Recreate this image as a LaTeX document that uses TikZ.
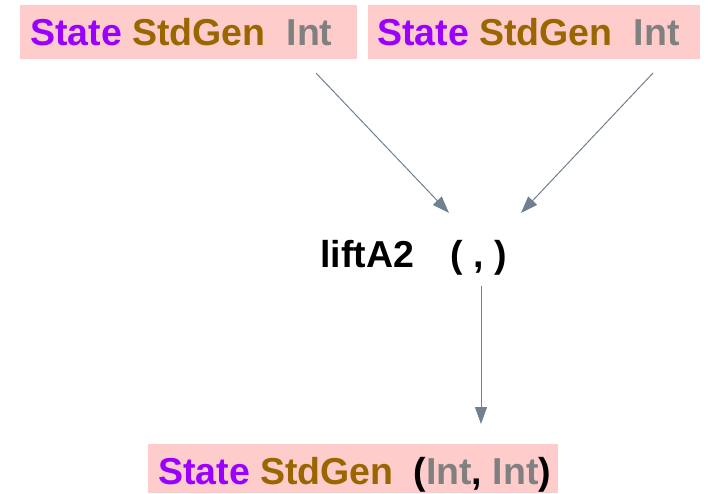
\documentclass[tikz,border=0pt]{standalone}
\usepackage{fontspec}
\setmainfont{Liberation Sans}
\usetikzlibrary{arrows.meta,calc}
\definecolor{boxfill}{HTML}{FFCCCC}
\definecolor{statec}{HTML}{9900FF}
\definecolor{genc}{HTML}{996600}
\definecolor{intc}{HTML}{808080}
\definecolor{arrc}{HTML}{708090}
\tikzset{
  typebox/.style={draw=none, fill=boxfill, rectangle, inner sep=0pt, anchor=south west},
  typetext/.style={anchor=base west, inner sep=0pt, font=\fontsize{37.5pt}{41pt}\selectfont\bfseries},
  arr/.style={draw=arrc, line width=1pt, -{Triangle[length=17pt,width=12pt]}}
}
\begin{document}
\begin{tikzpicture}[x=1pt,y=1pt]
\useasboundingbox (0,0) rectangle (708,493);
% boxes
\node[typebox, minimum width=337pt, minimum height=54pt] (box1) at (20,434) {};
\node[typebox, minimum width=332pt, minimum height=54pt] (box2) at (368,434) {};
\node[typebox, minimum width=410pt, minimum height=49pt] (box3) at (148,0) {};
% texts
\node[typetext] (t1) at (30,447) {\textcolor{statec}{State} \textcolor{genc}{StdGen}\hspace{21pt}\textcolor{intc}{Int}};
\node[typetext] (t2) at (377,447) {\textcolor{statec}{State} \textcolor{genc}{StdGen}\hspace{21pt}\textcolor{intc}{Int}};
\node[typetext] (t3) at (158,9) {\textcolor{statec}{State} \textcolor{genc}{StdGen}\hspace{20pt}(\textcolor{intc}{Int}, \textcolor{intc}{Int})};
\node[typetext] (mid) at (320,226) {liftA2\hspace{37pt}( , )};
% connector end points
\coordinate (a1s) at (316,420);
\coordinate (a1e) at (449,280);
\coordinate (a2s) at (653,420);
\coordinate (a2e) at (521,280);
\coordinate (a3s) at (481,207);
\coordinate (a3e) at (481,69);
\draw[arr] (a1s) -- (a1e);
\draw[arr] (a2s) -- (a2e);
\draw[arr] (a3s) -- (a3e);
\end{tikzpicture}
\end{document}
